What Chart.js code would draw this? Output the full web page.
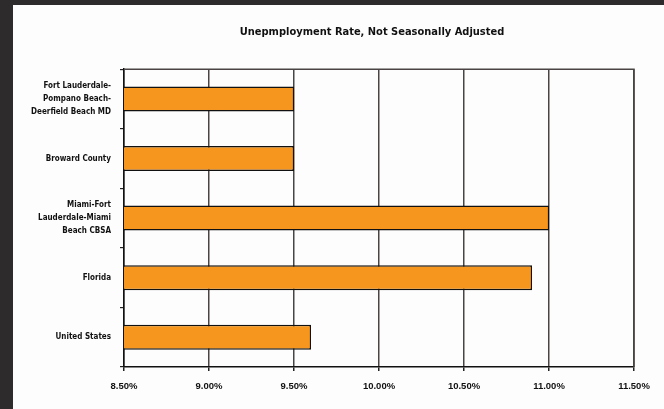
<!DOCTYPE html>
<html>
<head>
<meta charset="utf-8">
<script src="https://cdn.jsdelivr.net/npm/chart.js@4.4.0/dist/chart.umd.min.js"></script>
<style>
  html, body { margin: 0; padding: 0; background: #2d2b2b; overflow: hidden; width: 664px; height: 409px; }
  #wrap { position: absolute; left: 13px; top: 5px; width: 718px; height: 404px; background: #fdfdfd; }
  canvas { display: block; }
</style>
</head>
<body>
<div id="wrap"><canvas id="c" width="718" height="404"></canvas></div>
<script>
const chartTitle = "Unepmployment Rate, Not Seasonally Adjusted";
const categories = [
  ["Fort Lauderdale-", "Pompano Beach-", "Deerfield Beach MD"],
  "Broward County",
  ["Miami-Fort", "Lauderdale-Miami", "Beach CBSA"],
  "Florida",
  "United States"
];
const rates = [9.5, 9.5, 11.0, 10.9, 9.6];
const xMin = 8.5, xMax = 11.5, xStep = 0.5;

const condensed = "'DejaVu Sans Condensed', 'DejaVu Sans', sans-serif";

const frameLines = {
  id: 'frameLines',
  afterDatasetsDraw(chart) {
    const a = chart.chartArea, ctx = chart.ctx;
    ctx.save();
    ctx.strokeStyle = '#4a4444';
    ctx.lineWidth = 1.5;
    ctx.beginPath();
    ctx.moveTo(a.left, a.top);
    ctx.lineTo(a.right, a.top);
    ctx.lineTo(a.right, a.bottom);
    ctx.stroke();
    ctx.restore();
  }
};

new Chart(document.getElementById('c'), {
  type: 'bar',
  data: {
    labels: categories,
    datasets: [{
      data: rates,
      backgroundColor: '#F6961F',
      borderColor: '#111',
      borderWidth: 1.5,
      borderSkipped: false,
      barPercentage: 0.42,
      categoryPercentage: 1.0
    }]
  },
  options: {
    indexAxis: 'y',
    responsive: false,
    animation: false,
    layout: { padding: 0 },
    plugins: {
      legend: { display: false },
      tooltip: { enabled: false },
      title: {
        display: true,
        text: chartTitle,
        color: '#111',
        font: { family: condensed, style: 'condensed', size: 11, weight: 'bold' },
        padding: { top: 21, bottom: 30 }
      }
    },
    scales: {
      x: {
        type: 'linear',
        min: xMin, max: xMax,
        afterFit(scale) { scale.height = 42; },
        ticks: {
          stepSize: xStep,
          color: '#111',
          padding: 10,
          font: { family: "'Liberation Sans', sans-serif", size: 9.5, weight: 'bold' },
          callback: v => v.toFixed(2) + '%'
        },
        grid: { color: '#4a4444', lineWidth: 1.5, tickLength: 4, tickColor: '#222' },
        border: { display: true, color: '#111', width: 1.5 }
      },
      y: {
        afterFit(scale) { scale.width = 111; },
        ticks: {
          color: '#111',
          padding: 9,
          font: { family: condensed, style: 'condensed', size: 8, weight: 'bold', lineHeight: 1.6 }
        },
        grid: { drawOnChartArea: false, drawTicks: true, tickLength: 4, offset: true, color: '#222', lineWidth: 1.2 },
        border: { display: true, color: '#111', width: 1.5 }
      },
      yRight: {
        type: 'category',
        position: 'right',
        display: true,
        afterFit(scale) { scale.width = 97; },
        ticks: { display: false },
        grid: { display: false, drawTicks: false },
        border: { display: false }
      }
    }
  },
  plugins: [frameLines]
});
</script>
</body>
</html>
